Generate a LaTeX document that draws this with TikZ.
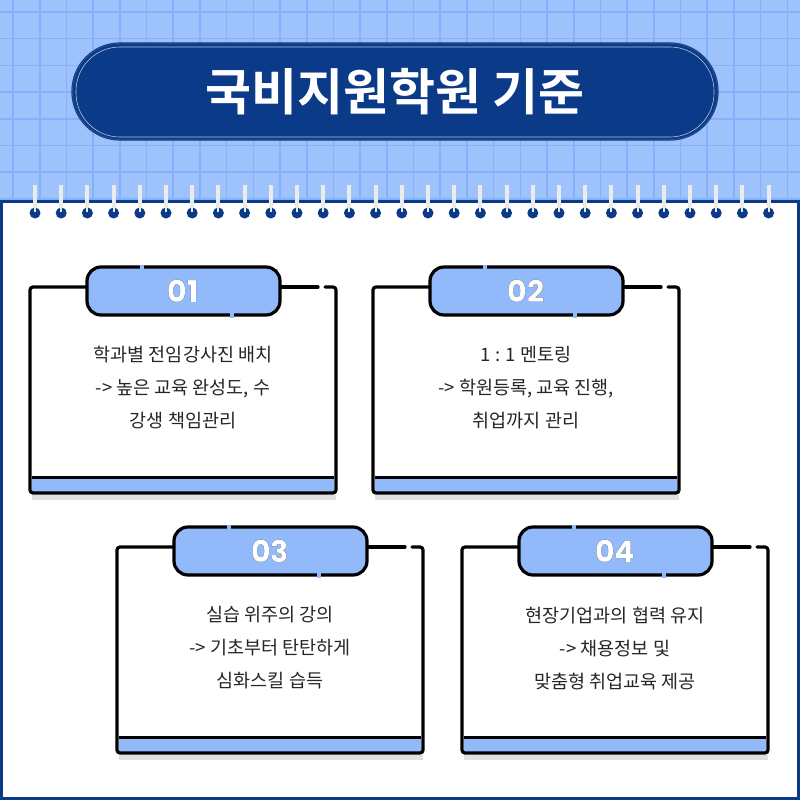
\documentclass[tikz,border=0pt]{standalone}
\usepackage{fontspec}
\setmainfont{Noto Sans CJK KR}
\newfontfamily\kob{Noto Sans CJK KR Bold}
\newfontfamily\numf{Poppins Bold}
\usepackage[outline]{contour}
\contourlength{1.6pt}
\definecolor{bgblue}{HTML}{9EC2FB}
\definecolor{gridblue}{HTML}{86B0FA}
\definecolor{navy}{HTML}{0A3A88}
\definecolor{tabblue}{HTML}{92BAFA}
\definecolor{txt}{HTML}{262626}
\tikzset{frame/.style={line width=3.2pt,black,line cap=round,rounded corners=3pt},
 bodytext/.style={text=txt,font=\fontsize{18.5}{33}\selectfont,align=center}}
\newcommand\card[5]{% #1 name, #2 left x, #3 top y, #4 number, #5 text
 \begin{scope}[shift={(#2,-#3)}]
  \fill[black!12] (2,-208) rectangle (306,-213);
  \fill[white] (0,0) rectangle (306,-206);
  \fill[tabblue] (2,-190) rectangle (304,-206);
  \draw[frame] (57,0) -- (0,0) -- (0,-206) -- (306,-206) -- (306,0) -- (295,0);
  \draw[frame] (250,0) -- (288,0);
  \draw[line width=3pt,black] (2,-190) -- (304,-190);
  \draw[frame,fill=tabblue,rounded corners=14pt] (57,-28) rectangle (250,20);
  \draw[line width=5pt,tabblue] (110,20) -- (114,20);
  \draw[line width=5pt,tabblue] (200,-28) -- (204,-28);
  \node (#1num) at (153,-4) {\numf\fontsize{30}{30}\selectfont\contour{black}{\textcolor{white}{#4}}};
  \node[bodytext] (#1) at (153,-101) {#5};
 \end{scope}}
\begin{document}
\begin{tikzpicture}[x=1pt,y=1pt]
\useasboundingbox (0,0) rectangle (800,-800);
\fill[bgblue] (0,0) rectangle (800,-800);
\foreach \i in {0,...,30} {
 \draw[gridblue,line width=1.6pt] (13+26.7*\i,0) -- (13+26.7*\i,-200);
}
\foreach \i in {0,...,7} {
 \draw[gridblue,line width=1.6pt] (0,-12-26.7*\i) -- (800,-12-26.7*\i);
}
\draw[navy,line width=3pt,fill=white] (1.5,-201) rectangle (798.5,-798.5);
\node[fill=navy,draw=navy!80!white,double=navy,rounded corners=48pt,minimum width=646pt,minimum height=97pt,text=white,font=\kob\fontsize{50}{50}\selectfont] (title) at (395,-91.5) {국비지원학원 기준};
\draw[white!70!navy,line width=0.6pt,rounded corners=44pt] (76,-47) rectangle (714,-137);
\foreach \i in {0,...,28} {
 \draw[black!8,line width=4pt] (35+26.2*\i,-185) -- (35+26.2*\i,-210);
 \fill[navy] (35+26.2*\i,-213) circle (5.5pt);
 \draw[black!8,line width=2pt] (35+26.2*\i,-205) -- (35+26.2*\i,-212);
}
\card{c1}{30}{287}{01}{학과별 전임강사진 배치\\-> 높은 교육 완성도, 수\\강생 책임관리}
\card{c2}{373}{287}{02}{1 : 1 멘토링\\-> 학원등록, 교육 진행,\\취업까지 관리}
\card{c3}{117}{547}{03}{실습 위주의 강의\\-> 기초부터 탄탄하게\\심화스킬 습득}
\card{c4}{462}{547}{04}{현장기업과의 협력 유지\\-> 채용정보 및\\맞춤형 취업교육 제공}
\end{tikzpicture}
\end{document}
